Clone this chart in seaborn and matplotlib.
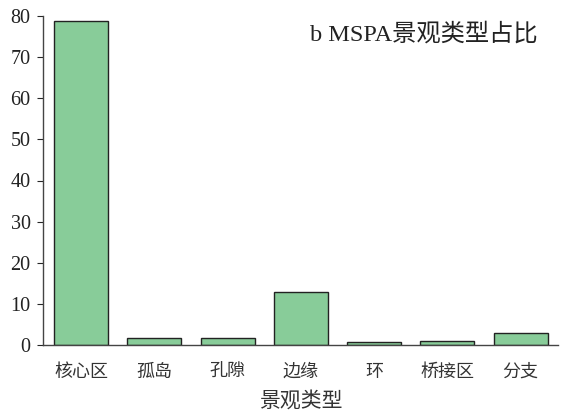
import matplotlib
matplotlib.use("Agg")
import matplotlib.pyplot as plt
import seaborn as sns
import pandas as pd

categories = ["核心区", "孤岛", "孔隙", "边缘", "环", "桥接区", "分支"]
values = [78.8, 1.7, 1.8, 12.9, 0.7, 1.0, 2.9]
y_ticks = [0, 10, 20, 30, 40, 50, 60, 70, 80]

sns.set_style("white")
plt.rcParams['font.family'] = ['Liberation Serif', 'Noto Sans CJK SC']

df = pd.DataFrame({"类型": categories, "占比": values})

fig = plt.figure(figsize=(5.63, 4.13), dpi=100)
ax = fig.add_axes([43/563, 1 - 345/413, (558 - 43)/563, (345 - 16)/413])
sns.barplot(data=df, x="类型", y="占比", color="#88CC99", saturation=1,
            edgecolor="#222222", linewidth=1.0, width=0.74, ax=ax)
ax.set_xlim(-0.52, 6.51)
ax.set_ylim(0, 80)
ax.set_yticks(y_ticks)
ax.tick_params(axis='y', direction='out', length=4, width=0.8, labelsize=14.5, pad=5, left=True,
               labelcolor="#222222")
ax.tick_params(axis='x', length=0, labelsize=13, pad=13, labelcolor="#333333")
for lab in ax.get_xticklabels():
    lab.set_family(['Noto Sans CJK SC'])
ax.set_xlabel("景观类型", fontsize=15, family=['Noto Sans CJK SC'], labelpad=6, color="#333333")
ax.set_ylabel("")
for s in ["top", "right"]:
    ax.spines[s].set_visible(False)
for s in ["left", "bottom"]:
    ax.spines[s].set_color("#444444")
    ax.spines[s].set_linewidth(1.0)
ax.text(0.96, 0.945, "b MSPA景观类型占比", transform=ax.transAxes, ha="right", va="center",
        fontsize=17.5, color="#222222", family=['Liberation Serif', 'Noto Sans CJK SC'])
fig.savefig("out.png", dpi=100)
